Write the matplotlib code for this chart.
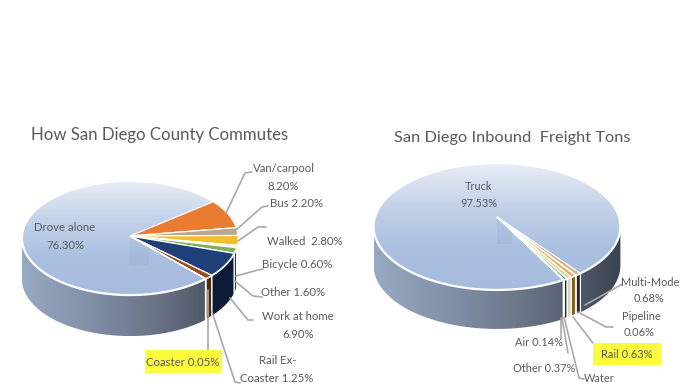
"""Two tilted 3D-look pies: San Diego commute modes and inbound freight tons."""

import numpy as np
import matplotlib
matplotlib.use("Agg")
import matplotlib.pyplot as plt
from matplotlib.patches import Polygon, Rectangle

plt.rcParams["font.family"] = ["Lato", "DejaVu Sans"]

# ---------------------------------------------------------------------------
# Data
# ---------------------------------------------------------------------------
COMMUTE_MODES = ["Van/carpool", "Bus", "Walked", "Bicycle", "Other",
                 "Work at home", "Rail Ex-Coaster", "Coaster", "Drove alone"]
COMMUTE_SHARE = [8.20, 2.20, 2.80, 0.60, 1.60, 6.90, 1.25, 0.05, 76.30]

FREIGHT_MODES = ["Multi-Mode", "Pipeline", "Rail", "Water", "Other", "Air", "Truck"]
# the water share has no printed value, it is the remainder of the 100%
FREIGHT_SHARE = [0.68, 0.06, 0.63, 0.59, 0.37, 0.14, 97.53]

# ---------------------------------------------------------------------------
# Colors
# ---------------------------------------------------------------------------
C_TEXT = "#595959"
C_LEADER = "#a9a9a9"
C_HILITE = "#fdfb3e"

COMMUTE_TOP = ["#e97c30", "#b7a88f", "#f3be2b", "#e3ecb8", "#7fae5c",
               "#1f3f78", "#9c4a1a", "#f0d9c8", None]
COMMUTE_SIDE = ["#3d4656", "#3d4656", "#0d1a30", "#0d1a30", "#0d1a30",
                "#0b1b38", "#55280c", "#f2f2f2", None]
FREIGHT_TOP = ["#cdb690", "#f7f0e2", "#f0a850", "#cfdcb4", "#6fa24f", "#2f6f3c", None]
FREIGHT_SIDE = ["#262626", "#d9d9d9", "#8a5c12", "#d5d5d5", "#12380f", "#e2e2e2", None]


def project(theta, radius, geo):
    """Perspective map of a flat disc on to the picture, apex at (cx, cy)."""
    cx, cy, rx, ry, k = geo
    t = np.radians(theta)
    x = radius * np.cos(t)
    y = radius * np.sin(t)
    w = 1 + k * y
    return cx + rx * x / w, cy - ry * y / w


def gradient(ax, clip, extent, stops, horizontal, zorder):
    n = 128
    pos = np.linspace(0, 1, n)
    rgb = np.array([matplotlib.colors.to_rgb(c) for c in stops])
    ramp = np.stack([np.interp(pos, np.linspace(0, 1, len(stops)), rgb[:, i])
                     for i in range(3)], axis=-1)
    img = ramp[np.newaxis, :, :] if horizontal else ramp[:, np.newaxis, :]
    im = ax.imshow(img, extent=extent, origin="upper", aspect="auto",
                   interpolation="bilinear", zorder=zorder)
    im.set_clip_path(clip)


def draw_pie(ax, geo, depth, values, top_colors, side_colors, start):
    cx, cy, rx, ry, k = geo
    shares = np.array(values, dtype=float)
    edges = start - np.concatenate([[0], np.cumsum(shares / shares.sum() * 360)])

    tilt = np.degrees(np.arcsin(k))
    th_left, th_right = 180 + tilt, 360 - tilt

    # side wall with its left-to-right shading
    th = np.linspace(th_left, th_right, 200)
    xs, ys = project(th, 1, geo)
    wall = np.column_stack([np.r_[xs, xs[::-1]], np.r_[ys, ys[::-1] + depth]])
    patch = Polygon(wall, closed=True, facecolor="none", edgecolor="none", zorder=1)
    ax.add_patch(patch)
    gradient(ax, patch, (xs[0], xs[-1], ys.max() + depth, cy - ry),
             ["#98a9c2", "#7f8ea6", "#666f80", "#3b4352"], True, 1)

    # coloured strips of the wall
    for a, b, col in zip(edges[:-1], edges[1:], side_colors):
        if col is None:
            continue
        hi = min(a, -tilt)
        lo = b
        if hi <= lo:
            continue
        t = np.linspace(hi, lo, 30)
        px, py = project(t, 1, geo)
        pts = np.column_stack([np.r_[px, px[::-1]], np.r_[py, py[::-1] + depth]])
        ax.add_patch(Polygon(pts, closed=True, facecolor=col, edgecolor="white",
                             linewidth=0.9, zorder=2))

    # top: whole disc shaded, coloured slices laid on it
    t = np.linspace(0, 360, 361)
    px, py = project(t, 1, geo)
    disc = Polygon(np.column_stack([px, py]), closed=True, facecolor="none",
                   edgecolor="none", zorder=3)
    ax.add_patch(disc)
    gradient(ax, disc, (px.min(), px.max(), py.max(), py.min()),
             ["#e9eef7", "#c4d2e9", "#abc0e1", "#a6bbdd"], False, 3)
    ax.add_patch(Polygon(np.column_stack([px, py]), closed=True, facecolor="none",
                         edgecolor="white", linewidth=1.6, zorder=5))

    # faint inner face below the apex
    ex, ey = project(edges[-2], 0.25, geo)
    ax.add_patch(Polygon([(cx, cy), (cx, cy + 0.7 * depth), (ex, cy + 0.7 * depth), (ex, ey)],
                         closed=True, facecolor="#8fa6c8", alpha=0.22,
                         edgecolor="none", zorder=4))

    for a, b, col in zip(edges[:-1], edges[1:], top_colors):
        if col is None:
            continue
        t = np.linspace(a, b, 30)
        px, py = project(t, 1, geo)
        pts = np.column_stack([np.r_[cx, px], np.r_[cy, py]])
        ax.add_patch(Polygon(pts, closed=True, facecolor=col, edgecolor="white",
                             linewidth=0.9, zorder=6))


def leader(ax, pts):
    xs, ys = zip(*pts)
    ax.plot(xs, ys, color=C_LEADER, lw=1.2, zorder=7, solid_capstyle="round")


def label(ax, x, y, text, size=8.2):
    ax.text(x, y, text, ha="center", va="center", fontsize=size, color=C_TEXT, zorder=9)


def main():
    fig = plt.figure(figsize=(6.92, 3.89), dpi=100)
    ax = fig.add_axes([0, 0, 1, 1])

    draw_pie(ax, (130, 236, 108, 57, 0.035), 41, COMMUTE_SHARE,
             COMMUTE_TOP, COMMUTE_SIDE, 38)
    draw_pie(ax, (497, 217, 122, 62, 0.15), 39, FREIGHT_SHARE,
             FREIGHT_TOP, FREIGHT_SIDE, -53)

    ax.set_xlim(0, 692)
    ax.set_ylim(389, 0)
    ax.axis("off")

    label(ax, 160, 135, "How San Diego County Commutes", 12.1)
    label(ax, 512, 138, "San Diego Inbound  Freight Tons", 11.8)

    # left pie labels
    label(ax, 65, 227, "Drove alone")
    label(ax, 65, 245, "76.30%")
    label(ax, 284, 168, "Van/carpool")
    label(ax, 283, 186, "8.20%")
    label(ax, 297, 203, "Bus 2.20%")
    label(ax, 305, 241, "Walked  2.80%")
    label(ax, 297, 265, "Bicycle 0.60%")
    label(ax, 293, 292, "Other 1.60%")
    label(ax, 298, 317, "Work at home")
    label(ax, 298, 334, "6.90%")
    label(ax, 278, 360, "Rail Ex-")
    label(ax, 277, 378, "Coaster 1.25%")
    ax.add_patch(Rectangle((145, 350), 77, 23, facecolor=C_HILITE, edgecolor="none", zorder=8))
    label(ax, 183, 362, "Coaster 0.05%")

    leader(ax, [(226, 213), (245, 173), (252, 172)])
    leader(ax, [(236, 230), (262, 207), (268, 206)])
    leader(ax, [(238, 241), (258, 227), (266, 227)])
    leader(ax, [(236, 276), (258, 270), (263, 269)])
    leader(ax, [(235, 281), (253, 296), (262, 297)])
    leader(ax, [(230, 298), (248, 320), (253, 320)])
    leader(ax, [(212, 312), (235, 382), (240, 383)])
    leader(ax, [(208, 290), (208, 350)])

    # right pie labels
    label(ax, 479, 186, "Truck", 7.9)
    label(ax, 479, 203, "97.53%", 7.9)
    label(ax, 650, 282, "Multi-Mode", 7.9)
    label(ax, 649, 299, "0.68%", 7.9)
    label(ax, 641, 317, "Pipeline", 7.9)
    label(ax, 639, 333, "0.06%", 7.9)
    ax.add_patch(Rectangle((593, 343), 68, 22, facecolor=C_HILITE, edgecolor="none", zorder=8))
    label(ax, 627, 354, "Rail 0.63%", 7.9)
    label(ax, 539, 343, "Air 0.14%", 7.9)
    label(ax, 544, 368, "Other 0.37%", 7.9)
    label(ax, 599, 379, "Water", 7.9)

    leader(ax, [(585, 305), (619, 286), (622, 284)])
    leader(ax, [(578, 312), (606, 327), (613, 327)])
    leader(ax, [(573, 317), (596, 347)])
    leader(ax, [(564, 317), (579, 378), (584, 379)])
    leader(ax, [(562, 318), (568, 353)])
    leader(ax, [(561, 318), (561, 338)])

    fig.savefig("out.png", dpi=100)
    plt.close(fig)


if __name__ == "__main__":
    main()
